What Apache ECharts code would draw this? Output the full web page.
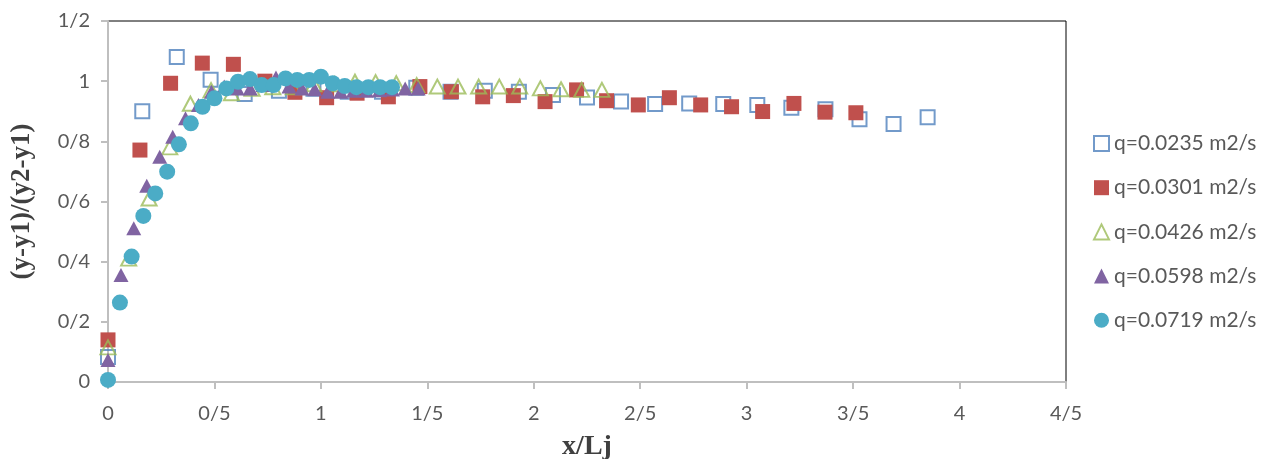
<!DOCTYPE html>
<html>
<head>
<meta charset="utf-8">
<script src="https://cdn.jsdelivr.net/npm/echarts@6/dist/echarts.min.js"></script>
<style>
  html, body { margin: 0; padding: 0; background: #fff; }
  #chart { width: 1261px; height: 459px; }
</style>
</head>
<body>
<div id="chart"></div>
<script>
const seriesNames = ['q=0.0235 m2/s', 'q=0.0301 m2/s', 'q=0.0426 m2/s', 'q=0.0598 m2/s', 'q=0.0719 m2/s'];
const xTickLabels = ['0', '0/5', '1', '1/5', '2', '2/5', '3', '3/5', '4', '4/5'];
const yTickLabels = ['0', '0/2', '0/4', '0/6', '0/8', '1', '1/2'];

const x1 = [0, 0.161, 0.323, 0.482, 0.642, 0.803, 0.965, 1.126, 1.287, 1.448, 1.609, 1.77, 1.93, 2.09, 2.25, 2.41, 2.57, 2.73, 2.89, 3.05, 3.21, 3.37, 3.53, 3.69, 3.85];
const y1 = [0.083, 0.90, 1.08, 1.005, 0.957, 0.968, 0.975, 0.965, 0.965, 0.978, 0.965, 0.968, 0.965, 0.954, 0.946, 0.932, 0.924, 0.926, 0.924, 0.921, 0.912, 0.907, 0.873, 0.858, 0.880];

const x2 = [0, 0.150, 0.294, 0.443, 0.589, 0.737, 0.878, 1.027, 1.17, 1.317, 1.465, 1.613, 1.76, 1.904, 2.053, 2.201, 2.342, 2.491, 2.637, 2.784, 2.929, 3.075, 3.222, 3.368, 3.513];
const y2 = [0.14, 0.771, 0.993, 1.06, 1.056, 1.0, 0.963, 0.945, 0.96, 0.948, 0.982, 0.965, 0.948, 0.952, 0.932, 0.971, 0.935, 0.921, 0.945, 0.921, 0.915, 0.899, 0.926, 0.897, 0.895];

const x3 = [0, 0.097, 0.193, 0.29, 0.387, 0.484, 0.58, 0.677, 0.774, 0.87, 0.967, 1.064, 1.16, 1.257, 1.354, 1.45, 1.547, 1.644, 1.741, 1.838, 1.934, 2.031, 2.128, 2.225, 2.32];
const y3 = [0.115, 0.41, 0.61, 0.78, 0.925, 0.97, 0.96, 0.975, 0.98, 0.98, 0.99, 0.99, 0.998, 0.997, 0.993, 0.987, 0.982, 0.982, 0.982, 0.982, 0.982, 0.976, 0.973, 0.971, 0.971];

const x4 = [0, 0.061, 0.121, 0.182, 0.243, 0.304, 0.364, 0.425, 0.486, 0.546, 0.607, 0.668, 0.728, 0.789, 0.85, 0.911, 0.971, 1.032, 1.093, 1.153, 1.214, 1.275, 1.336, 1.396, 1.457];
const y4 = [0.073, 0.356, 0.511, 0.652, 0.749, 0.815, 0.877, 0.921, 0.965, 0.982, 0.976, 0.976, 0.987, 1.012, 0.982, 0.976, 0.973, 0.965, 0.965, 0.968, 0.968, 0.97, 0.972, 0.976, 0.976];

const x5 = [0, 0.056, 0.111, 0.166, 0.222, 0.278, 0.333, 0.389, 0.444, 0.5, 0.556, 0.611, 0.667, 0.722, 0.778, 0.834, 0.889, 0.945, 1.0, 1.056, 1.112, 1.167, 1.223, 1.278, 1.334];
const y5 = [0.007, 0.264, 0.417, 0.552, 0.627, 0.699, 0.79, 0.86, 0.915, 0.943, 0.976, 0.998, 1.007, 0.987, 0.987, 1.009, 1.004, 1.004, 1.015, 0.993, 0.984, 0.98, 0.98, 0.98, 0.98];

const colors = ['#4F81BD', '#C0504D', '#9BBB59', '#8064A2', '#4BACC6'];

function zip(xs, ys) { return xs.map((x, i) => [x, ys[i]]); }

const chart = echarts.init(document.getElementById('chart'), null, { renderer: 'canvas' });
const labelFont = 'Lato, "Open Sans", sans-serif';

const option = {
  animation: false,
  backgroundColor: '#ffffff',
  grid: {
    left: 108, right: 195, top: 21, bottom: 77,
    outerBoundsMode: 'none', containLabel: false,
    show: true, borderColor: '#000000', borderWidth: 1, backgroundColor: 'transparent'
  },
  legend: {
    orient: 'vertical',
    left: 1088,
    top: 127,
    itemWidth: 15,
    itemHeight: 15,
    itemGap: 21.2,
    textStyle: { fontFamily: labelFont, fontSize: 21, color: '#595959', lineHeight: 23 },
    data: seriesNames
  },
  xAxis: {
    type: 'value', min: 0, max: 4.5, interval: 0.5,
    name: 'x/Lj', nameLocation: 'middle', nameGap: 51,
    nameTextStyle: { fontFamily: '"Liberation Serif", serif', fontWeight: 'bold', fontSize: 28, color: '#404040' },
    axisLine: { show: true, lineStyle: { color: '#BFBFBF', width: 2 } },
    axisTick: { show: true, inside: false, length: 7, lineStyle: { color: '#BFBFBF', width: 2 } },
    axisLabel: {
      margin: 22, fontFamily: labelFont, fontSize: 20, color: '#595959',
      formatter: v => xTickLabels[Math.round(v / 0.5)]
    },
    splitLine: { show: false }
  },
  yAxis: {
    type: 'value', min: 0, max: 1.2, interval: 0.2,
    name: '(y-y1)/(y2-y1)', nameLocation: 'middle', nameGap: 72, nameRotate: 90,
    nameTextStyle: { fontFamily: '"Liberation Serif", serif', fontWeight: 'bold', fontSize: 27, color: '#404040' },
    axisLine: { show: true, lineStyle: { color: '#BFBFBF', width: 2 } },
    axisTick: { show: true, inside: false, length: 7, lineStyle: { color: '#BFBFBF', width: 2 } },
    axisLabel: {
      margin: 18, fontFamily: labelFont, fontSize: 20, color: '#595959',
      formatter: v => yTickLabels[Math.round(v / 0.2)]
    },
    splitLine: { show: false }
  },
  series: [
    {
      name: seriesNames[0], type: 'scatter', symbol: 'rect', symbolSize: 14,
      itemStyle: { color: 'rgba(255,255,255,0)', borderColor: colors[0], borderWidth: 2 },
      data: zip(x1, y1)
    },
    {
      name: seriesNames[1], type: 'scatter', symbol: 'rect', symbolSize: 15,
      itemStyle: { color: colors[1], opacity: 1 },
      data: zip(x2, y2)
    },
    {
      name: seriesNames[2], type: 'scatter', symbol: 'triangle', symbolSize: [15, 14],
      itemStyle: { color: 'rgba(255,255,255,0)', borderColor: colors[2], borderWidth: 2 },
      data: zip(x3, y3)
    },
    {
      name: seriesNames[3], type: 'scatter', symbol: 'triangle', symbolSize: [15, 14],
      itemStyle: { color: colors[3], opacity: 1 },
      data: zip(x4, y4)
    },
    {
      name: seriesNames[4], type: 'scatter', symbol: 'circle', symbolSize: 16,
      itemStyle: { color: colors[4], opacity: 1 },
      data: zip(x5, y5)
    }
  ]
};
chart.setOption(option);
</script>
</body>
</html>
